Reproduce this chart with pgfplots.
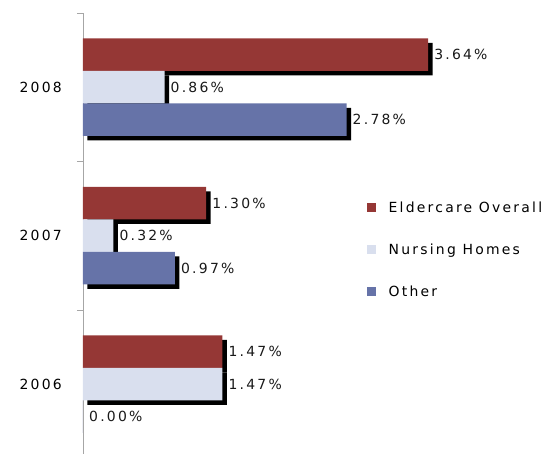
\documentclass[border=0pt]{standalone}
\usepackage{pgfplots}
\pgfplotsset{compat=1.18}
\usepackage{fontspec}
\setmainfont{DejaVu Sans}[LetterSpace=16]
\definecolor{cE}{RGB}{149,55,53}
\definecolor{cN}{RGB}{217,223,238}
\definecolor{cO}{RGB}{102,115,168}
\begin{document}
\begin{tikzpicture}
\path[use as bounding box] (-83bp,0bp) rectangle (474bp,454bp);
\begin{axis}[
  scale only axis,
  width=474bp, height=441bp,
  xmin=0, xmax=5,
  ymin=-0.47, ymax=2.5,
  hide x axis,
  axis y line*=left,
  y axis line style={draw=gray!70, line width=0.8pt},
  ytick={0,1,2},
  yticklabels={2006,2007,2008},
  major tick length=0pt,
  extra y ticks={0.5,1.5,2.5},
  extra y tick labels={},
  extra y tick style={major tick length=6bp, tick style={draw=gray!70, line width=0.8pt}},
  tick align=outside,
  y tick label style={font=\fontsize{14}{16}\selectfont, inner sep=0pt, xshift=-21bp},
  /pgf/number format/assume math mode=true,
  xbar, bar width=32.5bp,
  clip=false,
  every node near coord/.append style={font=\fontsize{14}{16}\selectfont, anchor=west, inner sep=0pt, xshift=6bp, text=black!90},
  legend style={at={(0.593,0.577)}, anchor=north west, draw=none, fill=none,
    font=\fontsize{14}{16}\selectfont, row sep=31.5bp,
    nodes={inner sep=0pt, text depth=0pt},
    /tikz/every odd column/.append style={column sep=13bp}},
  legend cell align=left,
]
% Eldercare Overall
\addplot[fill=black, draw=none, bar shift=32.5bp, xshift=4.5bp, yshift=-4.5bp, forget plot] coordinates {(1.47,0) (1.30,1) (3.64,2)};
\addplot[fill=cE, draw=none, bar shift=32.5bp, forget plot, nodes near coords={\pgfmathprintnumber[fixed,fixed zerofill,precision=2]{\pgfplotspointmeta}\%}] coordinates {(1.47,0) (1.30,1) (3.64,2)};
% Nursing Homes
\addplot[fill=black, draw=none, bar shift=0bp, xshift=4.5bp, yshift=-4.5bp, forget plot] coordinates {(1.47,0) (0.32,1) (0.86,2)};
\addplot[fill=cN, draw=none, bar shift=0bp, forget plot, nodes near coords={\pgfmathprintnumber[fixed,fixed zerofill,precision=2]{\pgfplotspointmeta}\%}] coordinates {(1.47,0) (0.32,1) (0.86,2)};
% Other
\addplot[fill=black, draw=none, bar shift=-32.5bp, xshift=4.5bp, yshift=-4.5bp, forget plot] coordinates {(0.97,1) (2.78,2)};
\addplot[fill=cO, draw=none, bar shift=-32.5bp, forget plot, nodes near coords={\pgfmathprintnumber[fixed,fixed zerofill,precision=2]{\pgfplotspointmeta}\%}] coordinates {(0,0) (0.97,1) (2.78,2)};
\addlegendimage{legend image code/.code={\fill[cE] (0bp,-4bp) rectangle (8bp,4bp);}}
\addlegendentry{Eldercare Overall}
\addlegendimage{legend image code/.code={\fill[cN] (0bp,-4bp) rectangle (8bp,4bp);}}
\addlegendentry{Nursing Homes}
\addlegendimage{legend image code/.code={\fill[cO] (0bp,-4bp) rectangle (8bp,4bp);}}
\addlegendentry{Other}
\end{axis}
\end{tikzpicture}
\end{document}
